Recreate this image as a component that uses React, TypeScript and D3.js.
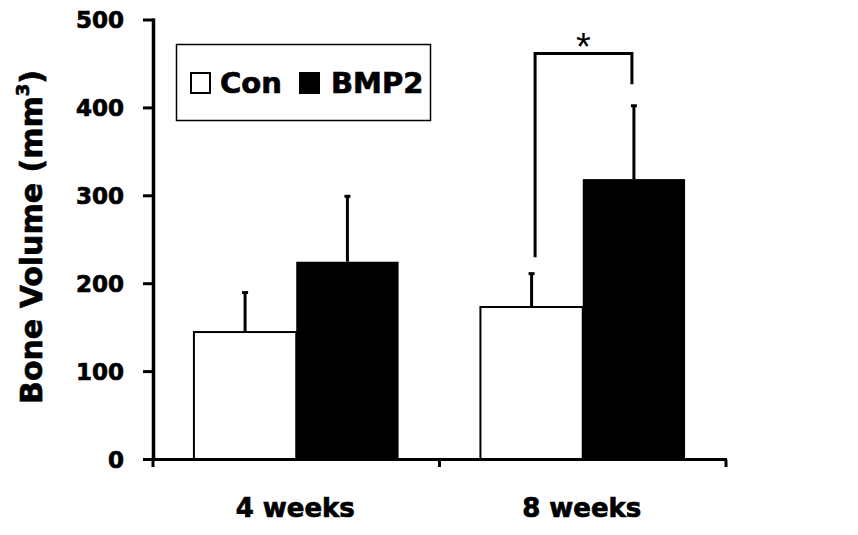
import React from "react";
import * as d3 from "d3";

const groups = ["4 weeks", "8 weeks"];
const series = ["Con", "BMP2"];
const seriesFill = ["#ffffff", "#000000"];
const means = [
  [145, 225],
  [173.5, 319],
];
const errors = [
  [45.5, 75],
  [38.5, 84],
];
const yTicks = [0, 100, 200, 300, 400, 500];
const bracketLevels = { left: 230, top: 462, right: 427 };

const W = 858;
const H = 535;
const FONT = "'DejaVu Sans', Arial, sans-serif";
const HEAVY = { fontWeight: "bold" as const, stroke: "#000", strokeWidth: 0.7 };

export default function App() {
  const y = d3.scaleLinear().domain([0, 500]).range([459.5, 20]);
  const x0 = d3.scaleBand<string>().domain(groups).range([153, 726]).padding(0);
  const x1 = d3
    .scaleBand<string>()
    .domain(series)
    .range([0, x0.bandwidth()])
    .paddingInner(0)
    .paddingOuter(0.4);

  const bw = x1.bandwidth();
  const g8 = x0("8 weeks")!;
  const conX = g8 + x1("Con")! + bw / 2 + 3.5;
  const bmpX = g8 + x1("BMP2")! + bw / 2 - 2;

  return (
    <svg
      width={W}
      height={H}
      style={{ position: "absolute", left: 0, top: 0, background: "#fff" }}
      fontFamily={FONT}
    >
      <rect x={0} y={0} width={W} height={H} fill="#fff" />
      {/* bars */}
      {groups.map((g, gi) =>
        series.map((s, si) => {
          const bx = x0(g)! + x1(s)!;
          const top = y(means[gi][si]);
          const cx = bx + bw / 2;
          const et = y(means[gi][si] + errors[gi][si]);
          return (
            <g key={g + s}>
              <line x1={cx} x2={cx} y1={top} y2={et} stroke="#000" strokeWidth={3} />
              <rect x={cx - 3} y={et - 1} width={6} height={3} fill="#000" />
              <rect
                x={bx}
                y={top}
                width={bw}
                height={y(0) - top}
                fill={seriesFill[si]}
                stroke="#000"
                strokeWidth={si === 0 ? 2 : 0}
              />
            </g>
          );
        })
      )}
      {/* y axis */}
      <line x1={153.5} x2={153.5} y1={18.5} y2={461} stroke="#000" strokeWidth={3.5} />
      {yTicks.map((t) => (
        <g key={t}>
          <line x1={143} x2={154} y1={y(t)} y2={y(t)} stroke="#000" strokeWidth={3} />
          <text
            x={124}
            y={y(t)}
            dy="0.36em"
            textAnchor="end"
            fontSize={23}
            {...HEAVY}
          >
            {t}
          </text>
        </g>
      ))}
      {/* x axis */}
      <line x1={143} x2={727} y1={y(0)} y2={y(0)} stroke="#000" strokeWidth={3} />
      {[...groups.map((g) => x0(g)!), 726].map((tx, i) => (
        <line key={i} x1={tx} x2={tx} y1={y(0)} y2={467} stroke="#000" strokeWidth={3} />
      ))}
      {groups.map((g) => (
        <text
          key={g}
          x={x0(g)! + x0.bandwidth() / 2 - 1}
          y={517}
          textAnchor="middle"
          fontSize={26}
          {...HEAVY}
        >
          {g}
        </text>
      ))}
      {/* y label */}
      <text
        transform="translate(42,237) rotate(-90)"
        textAnchor="middle"
        fontSize={30}
        {...HEAVY}
      >
        Bone Volume (mm
        <tspan fontSize={18} dy={-13}>
          3
        </tspan>
        <tspan dy={13}>)</tspan>
      </text>
      {/* significance bracket */}
      <path
        d={`M${conX},${y(bracketLevels.left)} V${y(bracketLevels.top)} H${bmpX} V${y(
          bracketLevels.right
        )}`}
        fill="none"
        stroke="#000"
        strokeWidth={3}
      />
      <text
        x={(conX + bmpX) / 2}
        y={60}
        textAnchor="middle"
        fontSize={38}
        fontFamily="'Liberation Sans', Arial, sans-serif"
      >
        *
      </text>
      {/* legend */}
      <rect x={176.5} y={44.5} width={254} height={76} fill="#fff" stroke="#000" strokeWidth={1.5} />
      <rect x={191} y={73} width={19} height={20} fill="#fff" stroke="#000" strokeWidth={2} />
      <text x={220} y={93} fontSize={29} {...HEAVY}>
        Con
      </text>
      <rect x={299} y={72} width={21} height={22} fill="#000" />
      <text x={331} y={93} fontSize={29} {...HEAVY}>
        BMP2
      </text>
    </svg>
  );
}
